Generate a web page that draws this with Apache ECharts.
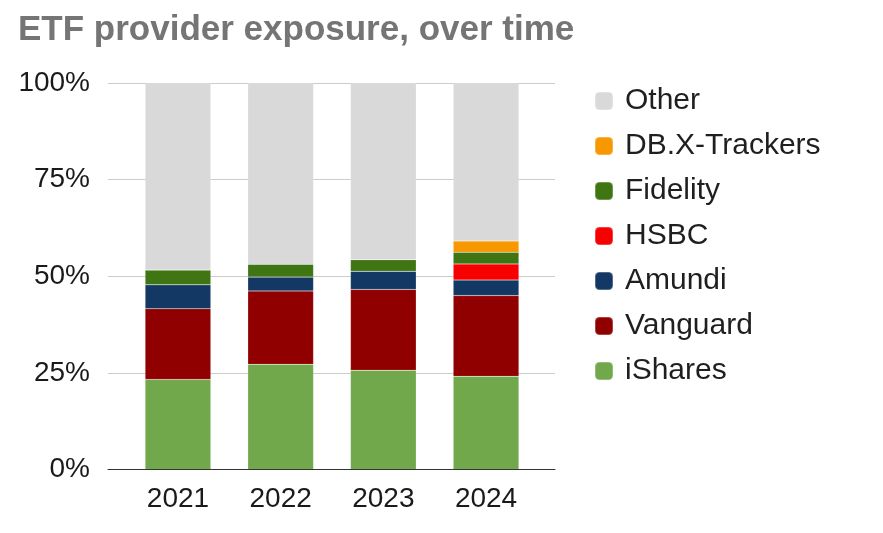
<!DOCTYPE html>
<html>
<head>
<meta charset="utf-8">
<script src="https://cdn.jsdelivr.net/npm/echarts@6/dist/echarts.min.js"></script>
<style>html,body{margin:0;padding:0;background:#fff}#c{width:883px;height:533px}</style>
</head>
<body>
<div id="c"></div>
<script>
const categories = ['2021', '2022', '2023', '2024'];
const iShares = [23.3, 27.2, 25.7, 24.1];
const vanguard = [18.3, 19.0, 20.9, 20.9];
const amundi = [6.2, 3.6, 4.7, 4.0];
const hsbc = [0, 0, 0, 4.2];
const fidelity = [3.8, 3.3, 3.0, 3.0];
const dbxTrackers = [0, 0, 0, 2.9];
const other = [48.4, 46.9, 45.7, 40.9];
const yTicks = [0, 25, 50, 75, 100];

const seriesDefs = [
  ['iShares', iShares, '#70a84b'],
  ['Vanguard', vanguard, '#910000'],
  ['Amundi', amundi, '#143864'],
  ['HSBC', hsbc, '#f70000'],
  ['Fidelity', fidelity, '#3f7513'],
  ['DB.X-Trackers', dbxTrackers, '#f79800'],
  ['Other', other, '#d9d9d9']
];

const font = '"Liberation Sans", Arial, sans-serif';
const chart = echarts.init(document.getElementById('c'), null, {renderer: 'canvas'});
chart.setOption({
  animation: false,
  title: {
    text: 'ETF provider exposure, over time',
    left: 13, top: 8,
    textStyle: {fontFamily: font, fontSize: 35, fontWeight: 'bold', color: '#757575'}
  },
  legend: {
    orient: 'vertical',
    left: 589, top: 81,
    icon: 'roundRect',
    itemWidth: 18, itemHeight: 18,
    itemGap: 15,
    data: ['Other', 'DB.X-Trackers', 'Fidelity', 'HSBC', 'Amundi', 'Vanguard', 'iShares'],
    textStyle: {fontFamily: font, fontSize: 30, color: '#1f1f1f', padding: [0, 0, 0, 7], lineHeight: 28}
  },
  grid: [
    {left: 108, right: 328, top: 83, bottom: 63.5, containLabel: false},
    {left: 126.6, right: 345.6, top: 83, bottom: 63.5, containLabel: false}
  ],
  xAxis: [
    {gridIndex: 0, type: 'category', data: categories,
     axisLine: {show: true, lineStyle: {color: '#333', width: 1}},
     axisTick: {show: false}, axisLabel: {show: false}, splitLine: {show: false}, z: 3},
    {gridIndex: 1, type: 'category', data: categories,
     axisLine: {show: false}, axisTick: {show: false},
     axisLabel: {fontFamily: font, fontSize: 28, color: '#1a1a1a', margin: 16}}
  ],
  yAxis: [
    {gridIndex: 0, type: 'value', min: yTicks[0], max: yTicks[yTicks.length - 1], interval: 25,
     axisLine: {show: false}, axisTick: {show: false},
     axisLabel: {fontFamily: font, fontSize: 28, color: '#1a1a1a', margin: 18, formatter: v => v + '%'},
     splitLine: {lineStyle: {color: '#cccccc', width: 1}}},
    {gridIndex: 1, type: 'value', min: 0, max: 100, show: false}
  ],
  series: seriesDefs.map(([name, data, color]) => ({
    name, type: 'bar', stack: 'total', xAxisIndex: 1, yAxisIndex: 1,
    data, barWidth: '64%',
    itemStyle: {color, borderColor: 'rgba(255,255,255,0.25)', borderWidth: 0.5}
  }))
});
</script>
</body>
</html>
